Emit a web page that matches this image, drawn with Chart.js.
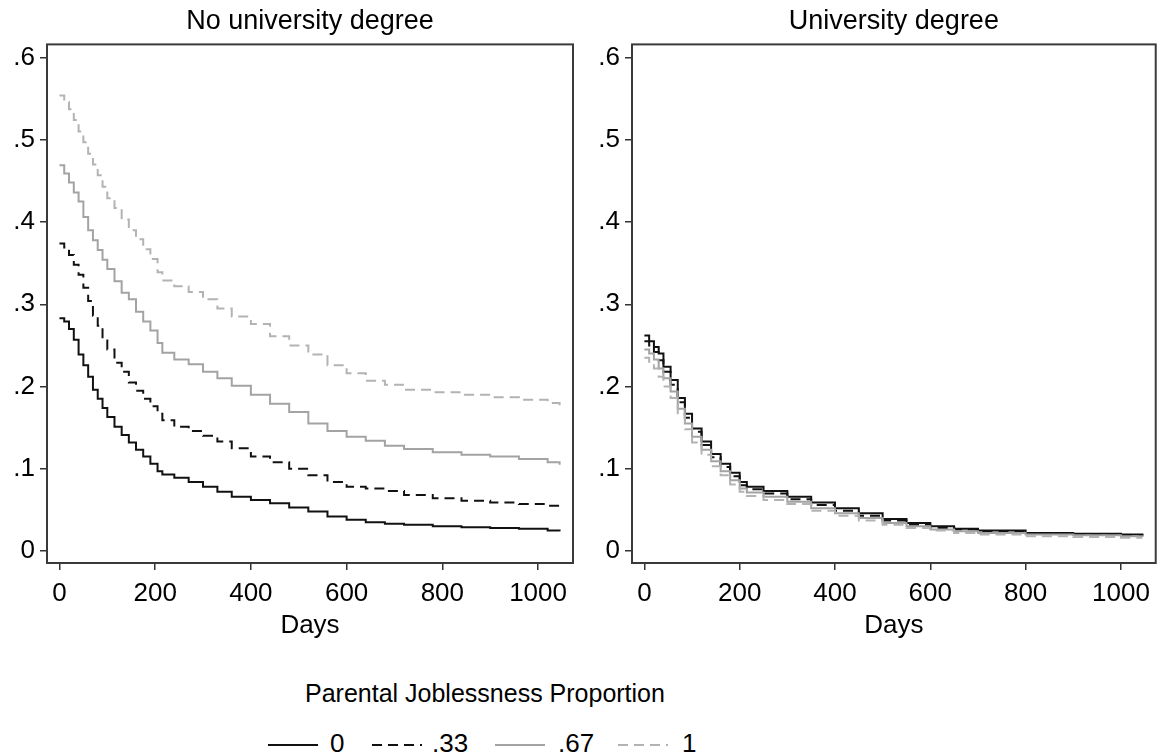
<!DOCTYPE html>
<html>
<head>
<meta charset="utf-8">
<script src="https://cdn.jsdelivr.net/npm/chart.js@4"></script>
<style>
  body { margin: 0; background: #fff; width: 1158px; height: 756px; position: relative; overflow: hidden; }
  canvas { position: absolute; top: 0; }
  #left { left: 0; }
  #right { left: 585px; }
  .lg { position: absolute; font-family: 'Liberation Sans', Arial, sans-serif; color: #000; white-space: nowrap; }
  .lg-title { left: 305px; top: 681px; font-size: 25px; line-height: 25px; }
  .lg-item { top: 730px; font-size: 26px; line-height: 26px; }
  .lg svg { position: absolute; }
</style>
</head>
<body>
<canvas id="left" width="579" height="660"></canvas>
<canvas id="right" width="573" height="660"></canvas>
<div id="legend"></div>
<script>
// шкалы
const xTicks = [0, 200, 400, 600, 800, 1000];
const xTickLabels = ['0', '200', '400', '600', '800', '1000'];
const yTicks = [0, 0.1, 0.2, 0.3, 0.4, 0.5, 0.6];
const yTickLabels = ['0', '.1', '.2', '.3', '.4', '.5', '.6'];

const groups = ['0', '.33', '.67', '1'];
const legendTitle = 'Parental Joblessness Proportion';

// без диплома
const daysNoUni = [0, 10, 20, 30, 40, 50, 60, 70, 80, 90, 100, 115, 130, 145, 160, 175, 190, 205, 215, 240,
  270, 300, 330, 360, 400, 440, 480, 520, 560, 600, 640, 680, 720, 780, 840, 900, 960, 1020, 1045];
const noUni0 = [.283, .279, .270, .257, .239, .226, .212, .196, .185, .174, .163, .151, .141, .132, .123, .115, .106, .097, .093, .089,
  .084, .078, .072, .066, .062, .058, .053, .048, .042, .038, .035, .033, .032, .030, .029, .028, .027, .025, .024];
const noUni33 = [.374, .369, .360, .348, .336, .320, .304, .286, .274, .256, .245, .229, .218, .205, .195, .185, .176, .167, .159, .151,
  .146, .140, .133, .125, .115, .108, .100, .092, .084, .078, .076, .073, .068, .064, .061, .059, .057, .055, .053];
const noUni67 = [.469, .459, .448, .436, .425, .406, .390, .378, .366, .354, .343, .328, .314, .306, .291, .279, .268, .253, .241, .233,
  .227, .218, .210, .201, .190, .179, .169, .155, .146, .139, .134, .128, .124, .120, .117, .115, .112, .108, .105];
const noUni1 = [.554, .546, .537, .524, .510, .497, .483, .470, .457, .443, .429, .417, .403, .390, .379, .367, .355, .339, .329, .322,
  .315, .306, .295, .285, .276, .261, .250, .239, .226, .216, .207, .202, .196, .193, .190, .187, .184, .180, .176];

// с дипломом
const daysUni = [0, 10, 20, 30, 40, 55, 70, 85, 100, 120, 140, 160, 180, 200, 215, 250, 300, 350, 400, 450,
  500, 550, 600, 650, 700, 800, 900, 1000, 1045];
const uni0 = [.262, .255, .248, .240, .224, .208, .186, .167, .149, .133, .118, .106, .095, .084, .078, .073, .066, .059, .052, .046,
  .039, .034, .030, .027, .025, .022, .021, .020, .019];
const uni33 = [.255, .250, .242, .232, .218, .202, .181, .162, .145, .129, .114, .102, .091, .080, .075, .070, .063, .056, .049, .043,
  .037, .032, .028, .026, .024, .021, .020, .019, .018];
const uni67 = [.245, .240, .233, .222, .210, .194, .173, .155, .139, .123, .109, .097, .086, .076, .071, .066, .060, .052, .046, .040,
  .034, .030, .026, .024, .022, .020, .019, .018, .017];
const uni1 = [.235, .230, .222, .212, .200, .186, .166, .148, .132, .117, .103, .092, .081, .072, .067, .062, .057, .049, .043, .037,
  .032, .028, .025, .022, .020, .018, .017, .016, .016];

const FONT = "'Liberation Sans', Arial, sans-serif";
const lineStyles = [
  { color: '#111111', dash: [] },
  { color: '#111111', dash: [10, 6] },
  { color: '#a3a3a3', dash: [] },
  { color: '#b3b3b3', dash: [10, 6] }
];

const framePlugin = {
  id: 'frame',
  afterDatasetsDraw(chart) {
    const { ctx, chartArea: a } = chart;
    ctx.save();
    ctx.strokeStyle = '#3a3a3a';
    ctx.lineWidth = 2;
    ctx.strokeRect(a.left, a.top, a.right - a.left, a.bottom - a.top);
    ctx.restore();
  }
};

function makeDatasets(days, series) {
  return series.map((vals, i) => ({
    label: groups[i],
    data: days.map((d, j) => ({ x: d, y: vals[j] })),
    borderColor: lineStyles[i].color,
    borderDash: lineStyles[i].dash,
    borderWidth: 2,
    pointRadius: 0,
    stepped: true,
    fill: false
  })).reverse();
}

function makeConfig(title, days, series, padRight) {
  return {
    type: 'line',
    data: { datasets: makeDatasets(days, series) },
    options: {
      responsive: false,
      animation: false,
      devicePixelRatio: 1,
      layout: { padding: { left: 0, right: padRight, top: 0, bottom: 0 } },
      plugins: {
        legend: { display: false },
        tooltip: { enabled: false },
        title: {
          display: true,
          text: title,
          fullSize: false,
          color: '#000',
          font: { family: FONT, size: 27, weight: 'normal' },
          padding: { top: 5, bottom: 7 }
        }
      },
      scales: {
        x: {
          type: 'linear',
          min: -26,
          max: 1073,
          afterBuildTicks: s => { s.ticks = xTicks.map(v => ({ value: v })); },
          afterFit: s => { s.height = 97; },
          grid: { drawOnChartArea: false, drawTicks: true, tickLength: 7, color: '#333', lineWidth: 1.5 },
          border: { display: false },
          ticks: { color: '#000', font: { family: FONT, size: 26 }, padding: 8, maxRotation: 0, callback: (v, i) => xTickLabels[i] },
          title: { display: true, text: 'Days', color: '#000', font: { family: FONT, size: 26 }, padding: { top: 0, bottom: 19 } }
        },
        y: {
          type: 'linear',
          min: -0.0146,
          max: 0.616,
          afterBuildTicks: s => { s.ticks = yTicks.map(v => ({ value: v })); },
          afterFit: s => { s.width = 47; },
          grid: { drawOnChartArea: false, drawTicks: true, tickLength: 7, color: '#333', lineWidth: 1.5 },
          border: { display: false },
          ticks: { color: '#000', font: { family: FONT, size: 26 }, padding: 5, callback: (v, i) => yTickLabels[i] }
        }
      }
    },
    plugins: [framePlugin]
  };
}

new Chart(document.getElementById('left'),
  makeConfig('No university degree', daysNoUni, [noUni0, noUni33, noUni67, noUni1], 6));
new Chart(document.getElementById('right'),
  makeConfig('University degree', daysUni, [uni0, uni33, uni67, uni1], 2));

// легенда
const legend = document.getElementById('legend');
const sampleX = [268, 372, 495, 618];
const labelX = [330, 432, 558, 682];
let html = `<div class="lg lg-title">${legendTitle}</div>`;
groups.forEach((g, i) => {
  const st = lineStyles[i];
  html += `<div class="lg" style="left:${sampleX[i]}px;top:740px;width:50px;height:10px;">` +
    `<svg width="50" height="10"><line x1="0" y1="5" x2="50" y2="5" stroke="${st.color}" stroke-width="2"` +
    (st.dash.length ? ` stroke-dasharray="${st.dash.join(' ')}"` : '') + `/></svg></div>`;
  html += `<div class="lg lg-item" style="left:${labelX[i]}px;">${g}</div>`;
});
legend.innerHTML = html;
</script>
</body>
</html>
